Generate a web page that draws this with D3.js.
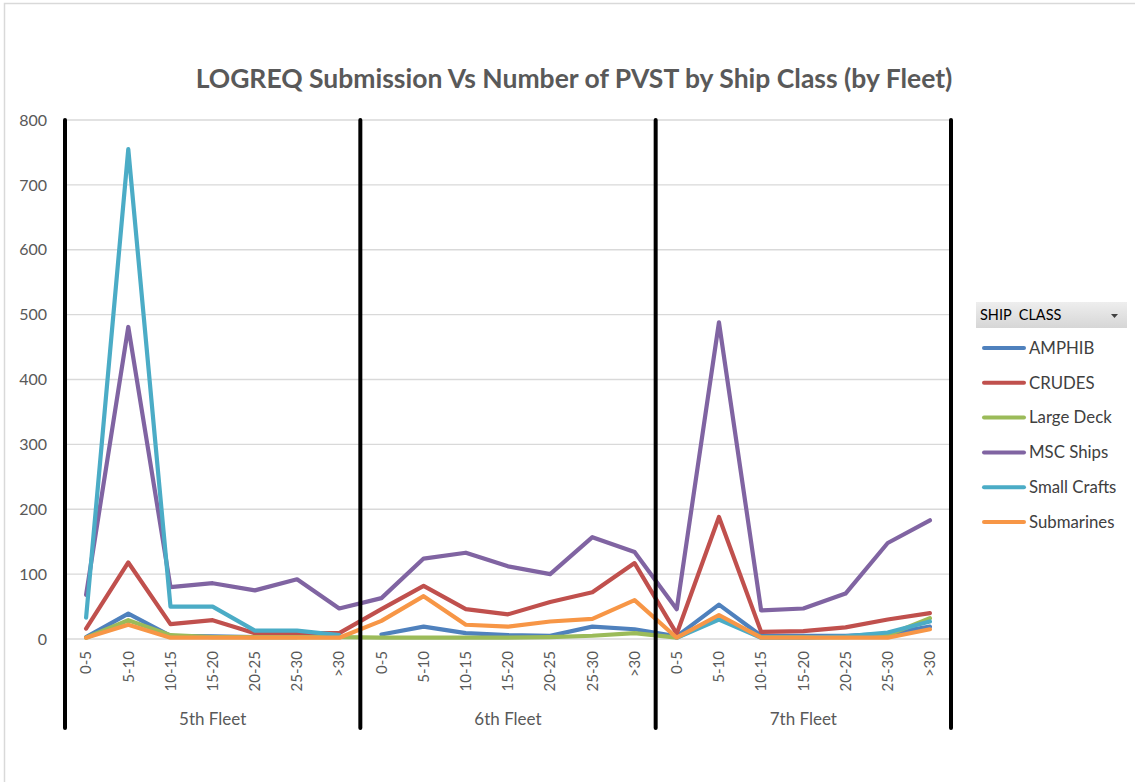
<!DOCTYPE html>
<html lang="en">
<head>
    <meta charset="UTF-8">
    <title>LOGREQ Submission Vs Number of PVST by Ship Class (by Fleet)</title>
    <script src="https://d3js.org/d3.v7.min.js"></script>
    <style>
        body {
            margin: 0;
            background-color: #fff;
            font-family: Lato, "Open Sans", sans-serif;
        }
    </style>
</head>
<body>
    <div id="chart"></div>

    <script>
        // Category levels
        const fleets = ['5th Fleet', '6th Fleet', '7th Fleet'];
        const buckets = ['0-5', '5-10', '10-15', '15-20', '20-25', '25-30', '>30'];

        // Series values, 5th | 6th | 7th fleet (null = no data)
        const amphib      = [3, 39, 5, 4, 3, 3, null,        7, 19, 9, 6, 5, 19, 15,          4, 53, 5, 5, 5, 8, 19];
        const crudes      = [16, 118, 23, 29, 9, 9, 9,       46, 82, 46, 38, 57, 72, 117,     8, 188, 11, 12, 18, 30, 40];
        const largeDeck   = [2, 29, 6, 3, 3, 3, 3,           2, 2, 2, 2, 3, 5, 9,             2, 33, 3, 3, 3, 6, 32];
        const mscShips    = [68, 481, 80, 86, 75, 92, 47,    63, 124, 133, 112, 100, 157, 134, 46, 488, 44, 47, 70, 148, 183];
        const smallCrafts = [33, 755, 50, 50, 13, 13, 6,     null, null, null, null, null, null, null, 2, 30, 2, 2, 4, 10, 27];
        const submarines  = [2, 22, 2, 2, 2, 2, 2,           28, 66, 22, 19, 27, 31, 60,      2, 37, 2, 2, 2, 2, 15];

        const seriesNames = ['AMPHIB', 'CRUDES', 'Large Deck', 'MSC Ships', 'Small Crafts', 'Submarines'];
        const seriesColors = ['#4F81BD', '#C0504D', '#9BBB59', '#8064A2', '#4BACC6', '#F79646'];
        const yTicks = [0, 100, 200, 300, 400, 500, 600, 700, 800];

        const series = [amphib, crudes, largeDeck, mscShips, smallCrafts, submarines]
            .map((values, i) => ({ name: seriesNames[i], color: seriesColors[i], values }));

        const width = 1135, height = 782;
        const plot = { left: 65, right: 951, top: 120, bottom: 639 };

        const svg = d3.select('#chart')
            .append('svg')
            .attr('width', width)
            .attr('height', height);

        // outer chart border
        svg.append('rect')
            .attr('x', 4.5).attr('y', 3.5)
            .attr('width', width + 10).attr('height', height + 10)
            .attr('fill', 'none')
            .attr('stroke', '#d9d9d9')
            .attr('stroke-width', 1.5);

        // flat category keys: fleet|bucket
        const keys = [];
        fleets.forEach(f => buckets.forEach(b => keys.push(f + '|' + b)));

        const x = d3.scaleBand().domain(keys).range([plot.left, plot.right]);
        const y = d3.scaleLinear().domain([0, 800]).range([plot.bottom, plot.top]);
        const cx = k => x(k) + x.bandwidth() / 2;

        // Title
        const title = svg.append('text')
            .attr('x', 574)
            .attr('y', 88)
            .attr('text-anchor', 'middle')
            .attr('font-weight', 'bold')
            .attr('fill', '#595959')
            .attr('font-size', 24)
            .text('LOGREQ Submission Vs Number of PVST by Ship Class (by Fleet)');
        // fit title to the reference width
        const tw = title.node().getComputedTextLength();
        title.attr('font-size', 24 * 757 / tw);

        // gridlines
        svg.append('g')
            .selectAll('line')
            .data(yTicks)
            .join('line')
            .attr('x1', plot.left).attr('x2', plot.right)
            .attr('y1', d => y(d)).attr('y2', d => y(d))
            .attr('stroke', '#d9d9d9')
            .attr('stroke-width', 1.3);

        // y axis labels
        const yAxis = svg.append('g')
            .attr('transform', `translate(${plot.left}, 0)`)
            .call(d3.axisLeft(y).tickValues(yTicks).tickSize(0).tickPadding(18));
        yAxis.select('.domain').remove();
        yAxis.selectAll('text')
            .attr('font-family', 'Lato, sans-serif')
            .attr('font-size', 16)
            .attr('fill', '#595959');

        // x axis bucket labels (rotated)
        const xAxis = svg.append('g')
            .attr('transform', `translate(0, ${plot.bottom})`)
            .call(d3.axisBottom(x).tickSize(0).tickFormat(k => k.split('|')[1]));
        xAxis.select('.domain').remove();
        xAxis.selectAll('text')
            .attr('font-family', 'Lato, sans-serif')
            .attr('font-size', 15)
            .attr('fill', '#595959')
            .attr('text-anchor', 'end')
            .attr('dy', '0.35em')
            .attr('transform', 'translate(0, 12) rotate(-90)')
            .attr('x', 0).attr('y', 0);

        // fleet labels
        svg.append('g')
            .selectAll('text')
            .data(fleets)
            .join('text')
            .attr('x', f => (x(f + '|' + buckets[0]) + x(f + '|' + buckets[6]) + x.bandwidth()) / 2)
            .attr('y', 725)
            .attr('text-anchor', 'middle')
            .attr('font-size', 17)
            .attr('fill', '#595959')
            .text(f => f);

        // lines
        const line = d3.line()
            .defined(d => d != null)
            .x((d, i) => cx(keys[i]))
            .y(d => y(d));

        svg.append('g')
            .selectAll('path')
            .data(series)
            .join('path')
            .attr('fill', 'none')
            .attr('stroke', d => d.color)
            .attr('stroke-width', 4.2)
            .attr('stroke-linejoin', 'round')
            .attr('stroke-linecap', 'round')
            .attr('d', d => line(d.values));

        // black fleet dividers
        const dividers = fleets.map(f => x(f + '|' + buckets[0])).concat([plot.right]);
        svg.append('g')
            .selectAll('line')
            .data(dividers)
            .join('line')
            .attr('x1', d => d).attr('x2', d => d)
            .attr('y1', 120).attr('y2', 728)
            .attr('stroke', '#000')
            .attr('stroke-width', 4)
            .attr('stroke-linecap', 'round');

        // legend
        const defs = svg.append('defs');
        const grad = defs.append('linearGradient')
            .attr('id', 'hdr')
            .attr('x1', 0).attr('y1', 0).attr('x2', 0).attr('y2', 1);
        grad.append('stop').attr('offset', '0%').attr('stop-color', '#eeeeee');
        grad.append('stop').attr('offset', '100%').attr('stop-color', '#d6d6d6');

        const legend = svg.append('g');
        legend.append('rect')
            .attr('x', 976).attr('y', 302)
            .attr('width', 151).attr('height', 26)
            .attr('fill', 'url(#hdr)');
        legend.append('text')
            .attr('x', 980).attr('y', 320)
            .attr('font-size', 14.5)
            .attr('fill', '#000')
            .text('SHIP  CLASS')
            .style('white-space', 'pre');
        legend.append('path')
            .attr('d', 'M1111,314 L1118,314 L1114.5,318 Z')
            .attr('fill', '#404040');

        const items = legend.selectAll('g.item')
            .data(series)
            .join('g')
            .attr('class', 'item')
            .attr('transform', (d, i) => `translate(0, ${348 + i * 34.8})`);
        items.append('line')
            .attr('x1', 984).attr('x2', 1024)
            .attr('stroke', d => d.color)
            .attr('stroke-width', 4)
            .attr('stroke-linecap', 'round');
        items.append('text')
            .attr('x', 1029)
            .attr('dy', '0.35em')
            .attr('font-size', 16.8)
            .attr('fill', '#404040')
            .text(d => d.name);
    </script>
</body>
</html>
